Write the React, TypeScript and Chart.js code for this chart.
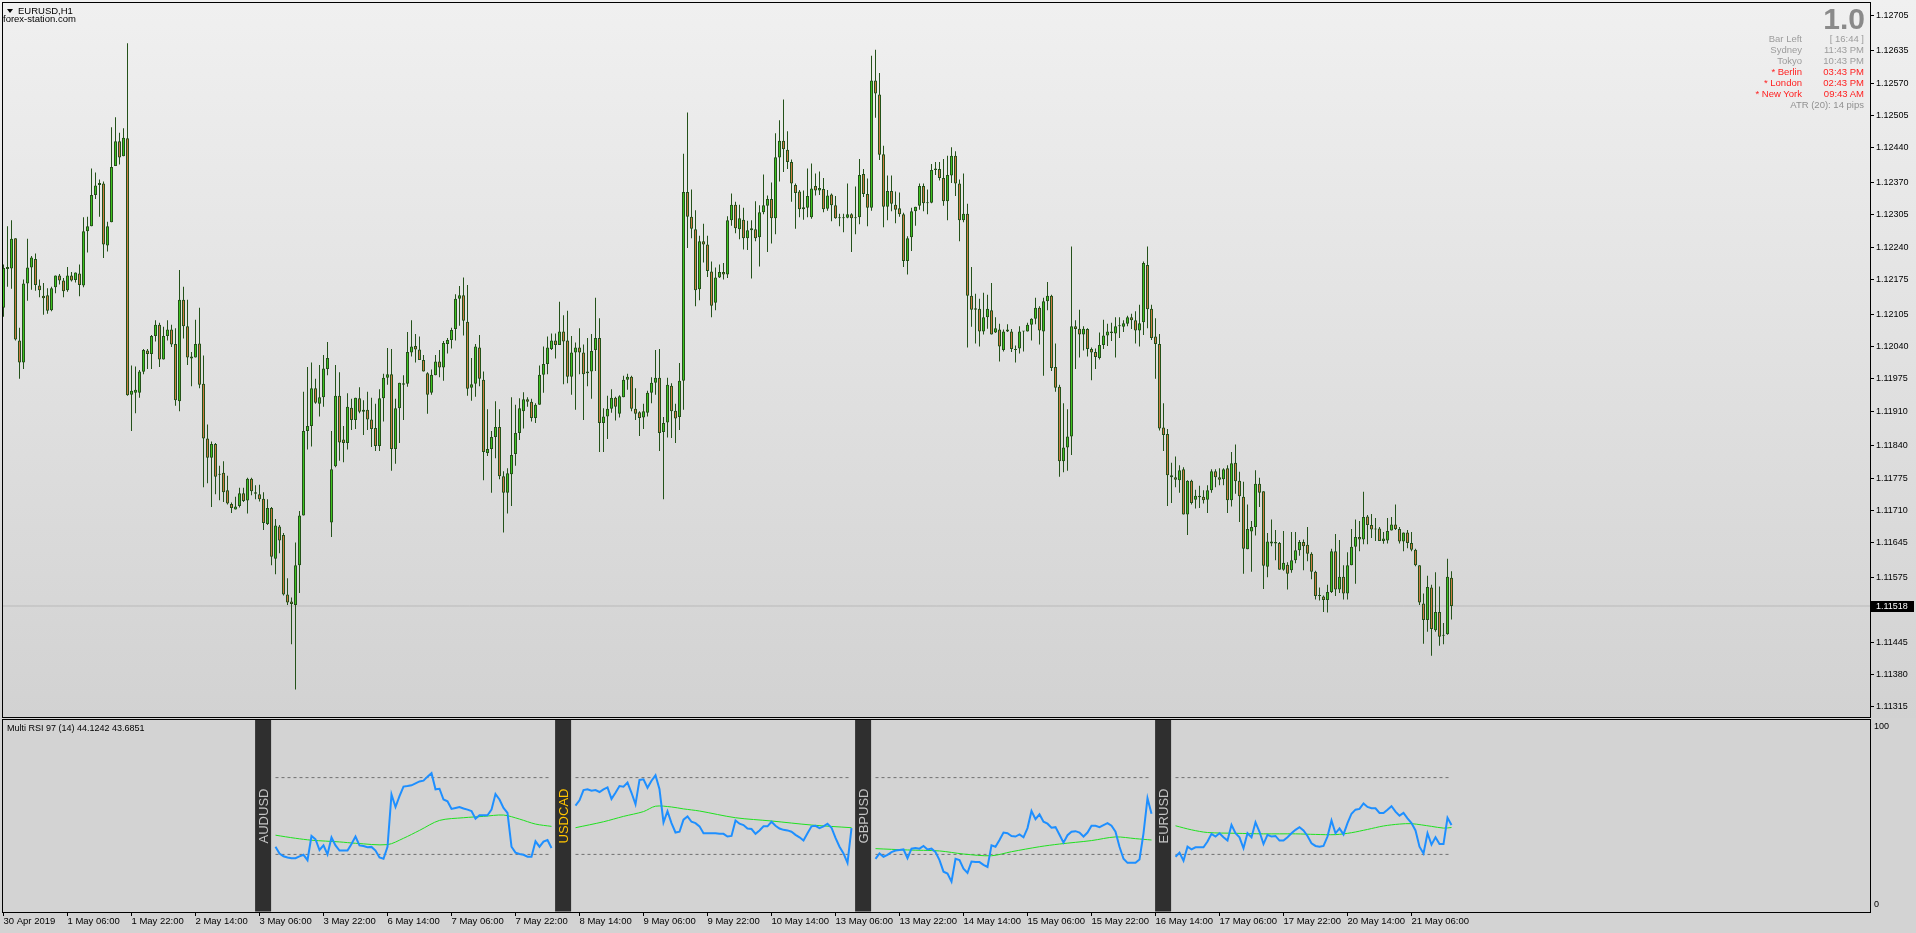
import React, { useEffect, useRef } from "react";
import { Chart, registerables } from "chart.js";
Chart.register(...registerables);

const FONT = "'Liberation Sans', Arial, sans-serif";

// ---------- EURUSD H1 candles (bar 0 = 30 Apr 2019 14:00) ----------
const opens = [
1.12118,1.12196,1.12197,1.12258,1.12052,1.12008,1.12167,1.12199,1.12216,1.12163,
1.12142,1.12143,1.12113,1.12159,1.12183,1.12173,1.12153,1.12183,1.12174,1.12187,
1.12163,1.12272,1.12282,1.12345,1.12365,1.12368,1.12243,1.12290,1.12403,1.12453,
1.12423,1.12459,1.11943,1.11947,1.11947,1.11989,1.12032,1.12025,1.12061,1.12084,
1.12014,1.12061,1.12074,1.12045,1.11930,1.12134,1.12081,1.12020,1.12018,1.12046,
1.11965,1.11855,1.11816,1.11844,1.11782,1.11786,1.11751,1.11723,1.11712,1.11719,
1.11745,1.11730,1.11774,1.11747,1.11743,1.11734,1.11683,1.11715,1.11613,1.11678,
1.11661,1.11541,1.11527,1.11520,1.11600,1.11700,1.11870,1.11880,1.11956,1.11925,
1.11938,1.11995,1.11686,1.11799,1.11941,1.11853,1.11846,1.11917,1.11892,1.11936,
1.11909,1.11913,1.11893,1.11876,1.11840,1.11936,1.11977,1.11984,1.11834,1.11916,
1.11966,1.11965,1.12028,1.12041,1.12034,1.12013,1.11986,1.11947,1.11982,1.12010,
1.11998,1.12045,1.12053,1.12075,1.12136,1.12143,1.12090,1.11957,1.11965,1.12038,
1.11973,1.11826,1.11834,1.11858,1.11878,1.11779,1.11746,1.11783,1.11824,1.11866,
1.11910,1.11934,1.11929,1.11896,1.11923,1.11983,1.12005,1.12035,1.12052,1.12043,
1.12070,1.12052,1.11979,1.12028,1.12038,1.12028,1.11986,1.11990,1.12033,1.12057,
1.11886,1.11899,1.11915,1.11937,1.11905,1.11938,1.11973,1.11979,1.11915,1.11908,
1.11897,1.11907,1.11947,1.11967,1.11977,1.11868,1.11887,1.11961,1.11911,1.11898,
1.11971,1.12351,1.12301,1.12276,1.12155,1.12252,1.12245,1.12191,1.12128,1.12179,
1.12190,1.12185,1.12294,1.12325,1.12276,1.12295,1.12258,1.12274,1.12276,1.12260,
1.12310,1.12323,1.12337,1.12298,1.12420,1.12454,1.12436,1.12411,1.12365,1.12352,
1.12316,1.12319,1.12300,1.12363,1.12354,1.12357,1.12317,1.12346,1.12324,1.12298,
1.12300,1.12299,1.12306,1.12298,1.12300,1.12387,1.12347,1.12319,1.12575,1.12547,
1.12427,1.12321,1.12353,1.12325,1.12318,1.12306,1.12212,1.12260,1.12312,1.12323,
1.12363,1.12328,1.12329,1.12395,1.12397,1.12379,1.12332,1.12384,1.12424,1.12368,
1.12294,1.12307,1.12142,1.12114,1.12116,1.12070,1.12099,1.12113,1.12068,1.12074,
1.12033,1.12070,1.12070,1.12035,1.12036,1.12070,1.12070,1.12084,1.12096,1.12118,
1.12070,1.12131,1.12142,1.11999,1.11959,1.11809,1.11837,1.11859,1.12081,1.12076,
1.12064,1.12075,1.12035,1.12029,1.12017,1.12043,1.12062,1.12070,1.12066,1.12081,
1.12080,1.12086,1.12099,1.12093,1.12072,1.12089,1.12204,1.12116,1.12060,1.12045,
1.11877,1.11864,1.11781,1.11777,1.11771,1.11793,1.11702,1.11770,1.11732,1.11740,
1.11738,1.11732,1.11751,1.11789,1.11777,1.11773,1.11795,1.11731,1.11806,1.11770,
1.11738,1.11632,1.11668,1.11677,1.11764,1.11749,1.11597,1.11648,1.11644,1.11645,
1.11591,1.11601,1.11590,1.11610,1.11630,1.11647,1.11641,1.11623,1.11587,1.11538,
1.11537,1.11530,1.11546,1.11628,1.11551,1.11577,1.11543,1.11600,1.11637,1.11657,
1.11652,1.11698,1.11681,1.11672,1.11674,1.11649,1.11650,1.11670,1.11682,1.11673,
1.11648,1.11666,1.11645,1.11631,1.11600,1.11523,1.11490,1.11555,1.11469,1.11506,
1.11458,1.11461,1.11575
];
const highs = [
1.12205,1.12282,1.12294,1.12258,1.12078,1.12175,1.12257,1.12222,1.12227,1.12175,
1.12168,1.12157,1.12160,1.12183,1.12186,1.12178,1.12200,1.12190,1.12189,1.12205,
1.12300,1.12301,1.12398,1.12390,1.12376,1.12372,1.12291,1.12481,1.12501,1.12470,
1.12479,1.12650,1.12002,1.12000,1.11993,1.12035,1.12035,1.12063,1.12093,1.12088,
1.12080,1.12093,1.12084,1.12077,1.12194,1.12160,1.12134,1.12029,1.12094,1.12118,
1.12022,1.11883,1.11849,1.11846,1.11800,1.11809,1.11780,1.11726,1.11738,1.11756,
1.11756,1.11776,1.11776,1.11761,1.11762,1.11747,1.11733,1.11717,1.11693,1.11681,
1.11665,1.11574,1.11535,1.11646,1.11709,1.11949,1.11999,1.12008,1.11975,1.12003,
1.12023,1.12049,1.11870,1.12003,1.11988,1.11880,1.11946,1.11935,1.11937,1.11958,
1.11932,1.11949,1.11937,1.11925,1.11954,1.11985,1.12037,1.12035,1.11935,1.11967,
1.11982,1.12069,1.12093,1.12065,1.12060,1.12023,1.11988,1.11994,1.12023,1.12033,
1.12051,1.12057,1.12078,1.12145,1.12162,1.12179,1.12164,1.12017,1.12045,1.12063,
1.11990,1.11914,1.11870,1.11930,1.11914,1.11789,1.11795,1.11938,1.11923,1.11936,
1.11948,1.11938,1.11935,1.11926,1.12002,1.12040,1.12060,1.12066,1.12066,1.12130,
1.12103,1.12112,1.12061,1.12048,1.12077,1.12044,1.12057,1.12065,1.12138,1.12097,
1.11916,1.11941,1.11954,1.11939,1.11942,1.11981,1.11985,1.11981,1.11956,1.11910,
1.11925,1.11951,1.11978,1.12033,1.12035,1.11898,1.11977,1.11966,1.11925,1.12007,
1.12428,1.12511,1.12356,1.12314,1.12263,1.12287,1.12263,1.12211,1.12199,1.12205,
1.12208,1.12302,1.12348,1.12331,1.12325,1.12319,1.12293,1.12294,1.12332,1.12324,
1.12386,1.12344,1.12370,1.12469,1.12495,1.12537,1.12473,1.12416,1.12368,1.12355,
1.12354,1.12398,1.12408,1.12388,1.12392,1.12379,1.12355,1.12348,1.12343,1.12307,
1.12307,1.12368,1.12308,1.12362,1.12417,1.12397,1.12378,1.12625,1.12637,1.12590,
1.12444,1.12384,1.12384,1.12352,1.12350,1.12309,1.12262,1.12319,1.12321,1.12368,
1.12368,1.12356,1.12407,1.12411,1.12411,1.12417,1.12424,1.12441,1.12433,1.12376,
1.12388,1.12327,1.12200,1.12146,1.12136,1.12148,1.12144,1.12168,1.12099,1.12086,
1.12074,1.12085,1.12075,1.12042,1.12081,1.12071,1.12088,1.12097,1.12138,1.12121,
1.12138,1.12170,1.12144,1.12046,1.11963,1.11926,1.11914,1.12241,1.12093,1.12114,
1.12081,1.12077,1.12038,1.12036,1.12068,1.12094,1.12086,1.12088,1.12099,1.12099,
1.12093,1.12102,1.12106,1.12111,1.12124,1.12211,1.12241,1.12124,1.12097,1.12065,
1.11926,1.11874,1.11806,1.11819,1.11801,1.11797,1.11771,1.11772,1.11752,1.11760,
1.11751,1.11761,1.11793,1.11793,1.11795,1.11795,1.11801,1.11828,1.11843,1.11788,
1.11768,1.11722,1.11689,1.11791,1.11776,1.11749,1.11665,1.11692,1.11671,1.11647,
1.11669,1.11606,1.11667,1.11667,1.11651,1.11652,1.11677,1.11626,1.11589,1.11555,
1.11539,1.11561,1.11633,1.11663,1.11651,1.11600,1.11626,1.11673,1.11692,1.11689,
1.11748,1.11701,1.11703,1.11695,1.11677,1.11667,1.11695,1.11697,1.11722,1.11677,
1.11666,1.11671,1.11667,1.11633,1.11600,1.11543,1.11579,1.11561,1.11586,1.11557,
1.11484,1.11613,1.11588
];
const lows = [
1.12100,1.12160,1.12156,1.12052,1.11975,1.11995,1.12132,1.12154,1.12152,1.12139,
1.12104,1.12106,1.12111,1.12147,1.12165,1.12139,1.12150,1.12171,1.12169,1.12141,
1.12159,1.12229,1.12282,1.12337,1.12301,1.12218,1.12231,1.12290,1.12403,1.12406,
1.12423,1.11941,1.11870,1.11906,1.11937,1.11984,1.11995,1.11995,1.12050,1.11999,
1.12014,1.12052,1.12039,1.11921,1.11910,1.12056,1.12003,1.11960,1.12018,1.11956,
1.11757,1.11765,1.11717,1.11743,1.11731,1.11727,1.11722,1.11705,1.11712,1.11716,
1.11727,1.11704,1.11741,1.11733,1.11728,1.11671,1.11681,1.11600,1.11582,1.11624,
1.11539,1.11520,1.11441,1.11350,1.11544,1.11700,1.11833,1.11839,1.11925,1.11899,
1.11919,1.11982,1.11657,1.11797,1.11810,1.11807,1.11833,1.11872,1.11874,1.11906,
1.11862,1.11872,1.11838,1.11830,1.11830,1.11889,1.11963,1.11790,1.11804,1.11846,
1.11892,1.11959,1.12020,1.12008,1.12013,1.11990,1.11905,1.11943,1.11982,1.11978,
1.11971,1.12026,1.12036,1.12052,1.12082,1.12062,1.11941,1.11931,1.11939,1.11960,
1.11771,1.11820,1.11746,1.11815,1.11773,1.11666,1.11704,1.11719,1.11800,1.11852,
1.11875,1.11919,1.11889,1.11886,1.11923,1.11947,1.11984,1.12033,1.12016,1.12043,
1.11964,1.11966,1.11943,1.11913,1.11984,1.11892,1.11960,1.11935,1.11991,1.11828,
1.11828,1.11854,1.11907,1.11891,1.11897,1.11938,1.11953,1.11910,1.11892,1.11860,
1.11874,1.11899,1.11926,1.11943,1.11830,1.11733,1.11857,1.11856,1.11846,1.11872,
1.11913,1.12238,1.12258,1.12121,1.12133,1.12209,1.12180,1.12099,1.12113,1.12178,
1.12175,1.12178,1.12283,1.12268,1.12256,1.12235,1.12234,1.12177,1.12252,1.12201,
1.12306,1.12230,1.12247,1.12266,1.12372,1.12391,1.12397,1.12331,1.12277,1.12300,
1.12295,1.12300,1.12297,1.12344,1.12345,1.12310,1.12313,1.12292,1.12297,1.12282,
1.12270,1.12298,1.12230,1.12266,1.12286,1.12341,1.12282,1.12313,1.12500,1.12415,
1.12280,1.12294,1.12312,1.12288,1.12301,1.12200,1.12185,1.12232,1.12283,1.12315,
1.12312,1.12306,1.12328,1.12385,1.12374,1.12323,1.12294,1.12369,1.12343,1.12252,
1.12290,1.12038,1.12080,1.12046,1.12040,1.12064,1.12076,1.12064,1.12067,1.12010,
1.12030,1.12069,1.12029,1.12008,1.12026,1.12030,1.12070,1.12052,1.12085,1.12044,
1.11981,1.12113,1.11991,1.11949,1.11778,1.11787,1.11790,1.11822,1.11995,1.12018,
1.12032,1.12020,1.11972,1.11995,1.12014,1.12035,1.12041,1.12051,1.12018,1.12057,
1.12069,1.12081,1.12075,1.12046,1.12040,1.12063,1.12077,1.12053,1.11975,1.11871,
1.11830,1.11719,1.11725,1.11757,1.11746,1.11702,1.11661,1.11722,1.11714,1.11715,
1.11724,1.11705,1.11746,1.11757,1.11761,1.11761,1.11705,1.11718,1.11744,1.11687,
1.11583,1.11632,1.11587,1.11660,1.11717,1.11552,1.11576,1.11638,1.11610,1.11591,
1.11589,1.11551,1.11585,1.11604,1.11619,1.11590,1.11608,1.11572,1.11531,1.11529,
1.11506,1.11505,1.11544,1.11538,1.11544,1.11531,1.11531,1.11600,1.11563,1.11628,
1.11642,1.11642,1.11655,1.11649,1.11649,1.11643,1.11644,1.11670,1.11671,1.11644,
1.11628,1.11634,1.11628,1.11598,1.11520,1.11442,1.11466,1.11418,1.11466,1.11438,
1.11441,1.11460,1.11491
];
const closes = [
1.12198,1.12200,1.12257,1.12054,1.12008,1.12167,1.12199,1.12219,1.12164,1.12153,
1.12137,1.12112,1.12157,1.12183,1.12173,1.12151,1.12183,1.12173,1.12189,1.12164,
1.12272,1.12282,1.12345,1.12364,1.12369,1.12245,1.12282,1.12401,1.12453,1.12420,
1.12460,1.11942,1.11951,1.11953,1.11990,1.12033,1.12025,1.12061,1.12084,1.12014,
1.12061,1.12074,1.12044,1.11932,1.12134,1.12081,1.12018,1.12016,1.12045,1.11963,
1.11855,1.11816,1.11844,1.11778,1.11784,1.11747,1.11724,1.11715,1.11718,1.11745,
1.11729,1.11774,1.11749,1.11744,1.11733,1.11685,1.11715,1.11617,1.11680,1.11650,
1.11541,1.11525,1.11522,1.11600,1.11700,1.11870,1.11880,1.11956,1.11927,1.11938,
1.11996,1.12017,1.11793,1.11941,1.11847,1.11846,1.11919,1.11892,1.11937,1.11909,
1.11913,1.11893,1.11874,1.11840,1.11936,1.11977,1.11984,1.11834,1.11916,1.11967,
1.11963,1.12029,1.12040,1.12034,1.12013,1.11990,1.11943,1.11983,1.12010,1.11998,
1.12047,1.12053,1.12073,1.12136,1.12143,1.12092,1.11955,1.11964,1.12040,1.11975,
1.11828,1.11834,1.11858,1.11878,1.11779,1.11746,1.11785,1.11822,1.11866,1.11916,
1.11934,1.11929,1.11896,1.11923,1.11983,1.12005,1.12038,1.12052,1.12043,1.12070,
1.12050,1.11979,1.12028,1.12038,1.12028,1.11984,1.11990,1.12031,1.12057,1.11886,
1.11899,1.11915,1.11937,1.11919,1.11940,1.11973,1.11979,1.11915,1.11905,1.11896,
1.11910,1.11947,1.11967,1.11977,1.11866,1.11886,1.11963,1.11910,1.11895,1.11971,
1.12351,1.12301,1.12277,1.12153,1.12252,1.12245,1.12192,1.12122,1.12179,1.12190,
1.12185,1.12294,1.12325,1.12278,1.12298,1.12258,1.12274,1.12278,1.12258,1.12310,
1.12324,1.12337,1.12298,1.12421,1.12454,1.12437,1.12411,1.12368,1.12349,1.12316,
1.12320,1.12343,1.12358,1.12354,1.12359,1.12316,1.12344,1.12324,1.12298,1.12300,
1.12298,1.12306,1.12298,1.12299,1.12385,1.12347,1.12319,1.12575,1.12549,1.12426,
1.12321,1.12353,1.12327,1.12315,1.12306,1.12212,1.12258,1.12312,1.12321,1.12363,
1.12328,1.12329,1.12395,1.12398,1.12379,1.12332,1.12385,1.12424,1.12368,1.12294,
1.12307,1.12142,1.12114,1.12117,1.12070,1.12099,1.12116,1.12064,1.12077,1.12040,
1.12070,1.12074,1.12035,1.12033,1.12070,1.12071,1.12084,1.12096,1.12118,1.12072,
1.12131,1.12142,1.11997,1.11957,1.11809,1.11837,1.11859,1.12081,1.12075,1.12064,
1.12076,1.12035,1.12028,1.12019,1.12043,1.12062,1.12070,1.12067,1.12081,1.12082,
1.12087,1.12099,1.12093,1.12072,1.12087,1.12208,1.12115,1.12057,1.12045,1.11875,
1.11862,1.11781,1.11777,1.11772,1.11791,1.11702,1.11770,1.11725,1.11740,1.11737,
1.11731,1.11751,1.11789,1.11777,1.11772,1.11793,1.11731,1.11805,1.11769,1.11739,
1.11633,1.11673,1.11677,1.11764,1.11746,1.11599,1.11648,1.11644,1.11647,1.11591,
1.11605,1.11583,1.11610,1.11630,1.11647,1.11638,1.11623,1.11587,1.11538,1.11540,
1.11530,1.11546,1.11628,1.11551,1.11577,1.11543,1.11600,1.11637,1.11657,1.11652,
1.11697,1.11681,1.11672,1.11674,1.11649,1.11654,1.11669,1.11682,1.11673,1.11648,
1.11666,1.11645,1.11631,1.11600,1.11525,1.11490,1.11556,1.11472,1.11506,1.11456,
1.11460,1.11577,1.11518
];

// price axis
const priceTicks = [1.12705,1.12635,1.12570,1.12505,1.12440,1.12370,1.12305,1.12240,1.12175,1.12105,1.12040,1.11975,1.11910,1.11840,1.11775,1.11710,1.11645,1.11575,1.11510,1.11445,1.11380,1.11315];
const priceMin = 1.113076;
const priceMax = 1.127222;

// time axis (one label every 16 bars)
const timeTickLabels = ["30 Apr 2019","1 May 06:00","1 May 22:00","2 May 14:00","3 May 06:00","3 May 22:00","6 May 14:00","7 May 06:00","7 May 22:00","8 May 14:00","9 May 06:00","9 May 22:00","10 May 14:00","13 May 06:00","13 May 22:00","14 May 14:00","15 May 06:00","15 May 22:00","16 May 14:00","17 May 06:00","17 May 22:00","20 May 14:00","21 May 06:00"];
const timeTickStep = 16;
const barMin = -0.125;
const barMax = 466.625;

// ---------- Multi RSI sub window ----------
const pairs = ["AUDUSD", "USDCAD", "GBPUSD", "EURUSD"];
const pairLabelColors = ["#c4c4c4", "#ffc400", "#c4c4c4", "#c4c4c4"];
const pairLabelBar = [64.9, 139.9, 214.9, 289.9];
const rsiStart = [68, 143, 218, 293];
const rsiLevels = [70, 30];

const audRsi = [34,30.5,29,28.4,28,28,29,29.8,27,39.6,37.9,32.3,34.7,30,38.8,34.7,32,32,32,35.4,39.3,34.7,34.4,33.7,33.9,32,28.4,27.7,34,61.2,54.7,60.4,65.3,65.6,66,67,68,68.4,70.5,72.3,63.9,64.2,58.6,57.7,53.7,54.2,54.7,53.9,53.3,52.6,48.6,50.4,50.4,50.4,53.3,61.4,58.6,54.2,51.6,34,30.9,30.2,29.8,28.8,28.8,36.8,34,36.7,37.5,33.3];
const cadRsi = [55.4,58.2,63.5,63.9,63.2,63.5,62.5,63.9,64.9,58.9,62.1,65.6,65.3,67.4,62.1,56.1,68.8,69.1,64.7,68.4,71.2,63.9,46.7,52.5,46.3,41.4,41.8,48.1,49.8,47,46.3,44.6,41,41,41,41,40.7,40.7,39.3,39.6,47.7,46,45.3,43.5,43.2,40.7,42.5,44.6,44.6,47,44.9,43.5,42.8,42.5,41.8,40.2,38.9,37.2,41,44.6,44.9,43.7,44.6,46,43.9,38.6,34,30.5,25.6,43.7];
const gbpRsi = [27.7,30.5,28.8,29.8,31.2,32,32.3,32.6,28,33,33.3,33,34.4,32.6,33,31.2,27,21,20,15.8,27.7,27,22.6,20.4,26.3,26,26,24.6,23.5,34.7,34,37.5,41.4,41,39.6,39.3,40.4,38.9,43.7,52.6,48.4,50.9,47,46,43.9,44.2,40.2,36.1,40,41.8,42.1,41.4,39.3,41.4,44.9,44.9,44.2,45.3,46.3,44.9,41.8,34,27.7,25.6,25.6,25.6,27.4,41,59.3,51.2];
const eurRsi = [28.8,30.9,26.7,34,32.6,33.7,33.7,33.7,36.7,40.7,39.3,41,38.9,37.2,45.4,41,38.9,33.2,41,38.9,46.7,41.8,35.4,40.2,39.3,39.6,37.2,37.2,38.9,41,42.8,44.2,42.5,39.6,35.8,34.4,34,34.4,39.3,47.7,41,43.5,40.4,46.3,51.2,53.3,53.7,56.5,54.7,54,54,51.6,51.6,53.3,55.1,52.3,50.2,51.6,48.8,46.3,42.5,34,30.5,41,35.1,38.9,35.4,35.4,49.1,45.3];

// signal (moving average) lines: [bar, value]
const audMa = [[68,40],[73,38.4],[77,37.4],[84,36.5],[88,35.8],[96,35.1],[100,38.4],[104,42.5],[109,47.7],[115,49.1],[120,49.8],[125,50.5],[129,48.4],[133,45.8],[137,44.6]];
const cadMa = [[143,43.9],[150,47],[155,49.8],[160,52.3],[163,55.1],[167,54.7],[170,53.7],[174,52.6],[183,49.1],[192,47.4],[202,45.3],[212,43.9]];
const gbpMa = [[218,33],[226,32.3],[234,31.8],[240,30.2],[247,29.3],[252,31.4],[259,34],[264,35.4],[272,37.2],[278,39.1],[283,38.2],[287,37.5]];
const eurMa = [[293,44.9],[297,42.8],[301,41.4],[308,41],[315,40.7],[323,40.7],[328,40.4],[333,40.3],[337,41.3],[341,43],[345,44.8],[349,45.8],[352,46],[357,44.6],[360,43.7],[362,44]];

const rsiSeries = [audRsi, cadRsi, gbpRsi, eurRsi];
const maSeries = [audMa, cadMa, gbpMa, eurMa];

// info panel
const infoLabels = ["Bar Left", "Sydney", "Tokyo", "* Berlin", "* London", "* New York"];
const infoValues = ["[ 16:44 ]", "11:43 PM", "10:43 PM", "03:43 PM", "02:43 PM", "09:43 AM"];
const infoColors = ["#9c9c9c", "#9c9c9c", "#9c9c9c", "#ff2020", "#ff2020", "#ff2020"];

const OUTLINE = "#24521a";
const BULL = "#3ec21f";
const BEAR = "#cd7a3f";

const lastPrice = closes[closes.length - 1];

function mainConfig(): any {
  const bodies = opens.map((o, i) => ({ x: i, y: [o, closes[i]] }));
  const wicks = highs.map((h, i) => ({ x: i, y: [lows[i], h] }));
  const overlay = {
    id: "mainOverlay",
    afterDraw(chart: any) {
      const { ctx, chartArea, scales } = chart;
      const y = Math.round(scales.y.getPixelForValue(lastPrice));
      ctx.save();
      ctx.fillStyle = "#000";
      ctx.fillRect(chartArea.right + 1, y - 5, 43, 11);
      ctx.fillStyle = "#fff";
      ctx.font = `9px ${FONT}`;
      ctx.textAlign = "left";
      ctx.textBaseline = "middle";
      ctx.fillText(lastPrice.toFixed(5), chartArea.right + 6, y + 1);
      ctx.restore();
    },
  };
  return {
    type: "bar",
    data: {
      datasets: [
        {
          type: "line",
          data: [{ x: barMin, y: lastPrice }, { x: barMax, y: lastPrice }],
          borderColor: "#b9b9b9",
          borderWidth: 1,
          pointRadius: 0,
          order: 3,
        },
        {
          data: wicks,
          backgroundColor: OUTLINE,
          borderWidth: 0,
          barThickness: 1,
          grouped: false,
          inflateAmount: 0,
          order: 2,
        },
        {
          data: bodies,
          backgroundColor: (c: any) => (closes[c.dataIndex] >= opens[c.dataIndex] ? BULL : BEAR),
          borderColor: OUTLINE,
          borderWidth: 1,
          borderSkipped: false,
          barThickness: 3,
          minBarLength: 1,
          grouped: false,
          inflateAmount: 0,
          order: 1,
        },
      ],
    },
    plugins: [overlay],
    options: {
      responsive: false,
      animation: false,
      devicePixelRatio: 1,
      events: [],
      layout: { padding: { left: 3, top: 3, right: 0, bottom: 1 } },
      plugins: { legend: { display: false }, tooltip: { enabled: false } },
      scales: {
        x: { type: "linear", display: false, min: barMin, max: barMax, offset: false, grid: { offset: false } },
        y: {
          type: "linear",
          position: "right",
          min: priceMin,
          max: priceMax,
          afterBuildTicks: (s: any) => { s.ticks = priceTicks.map((v) => ({ value: v })); },
          afterFit: (s: any) => { s.width = 46; },
          ticks: {
            callback: (v: any) => Number(v).toFixed(5),
            color: "#000",
            font: { family: FONT, size: 9 },
            padding: 2,
            autoSkip: false,
          },
          grid: { drawOnChartArea: false, drawTicks: true, tickLength: 4, tickColor: "#000", color: "#000" },
          border: { display: true, color: "#000", width: 1 },
        },
      },
    },
  };
}

function subConfig(): any {
  const datasets: any[] = [];
  datasets.push({
    data: pairLabelBar.map((x) => ({ x, y: [0, 100] })),
    backgroundColor: "#2f2f2f",
    borderWidth: 0,
    barThickness: 16,
    grouped: false,
    inflateAmount: 0,
    order: 6,
  });
  rsiSeries.forEach((arr, k) => {
    const s = rsiStart[k];
    const e = s + arr.length - 1;
    rsiLevels.forEach((lv) => {
      datasets.push({
        type: "line",
        data: [{ x: s, y: lv }, { x: e, y: lv }],
        borderColor: "#707070",
        borderWidth: 1,
        borderDash: [3, 3],
        pointRadius: 0,
        order: 5,
      });
    });
    datasets.push({
      type: "line",
      data: maSeries[k].map((p) => ({ x: p[0], y: p[1] })),
      borderColor: "#1fe01f",
      borderWidth: 1,
      pointRadius: 0,
      tension: 0.3,
      order: 4,
    });
    datasets.push({
      type: "line",
      data: arr.map((v, j) => ({ x: s + j, y: v })),
      borderColor: "#1e8fff",
      borderWidth: 2,
      pointRadius: 0,
      order: 2,
    });
  });
  const overlay = {
    id: "subOverlay",
    afterDatasetsDraw(chart: any) {
      const { ctx, chartArea, scales } = chart;
      const midY = (chartArea.top + chartArea.bottom) / 2;
      pairs.forEach((p, k) => {
        const px = scales.x.getPixelForValue(pairLabelBar[k]);
        ctx.save();
        ctx.translate(px + 1, midY);
        ctx.rotate(-Math.PI / 2);
        ctx.font = `13px ${FONT}`;
        ctx.fillStyle = pairLabelColors[k];
        ctx.textAlign = "center";
        ctx.textBaseline = "middle";
        ctx.fillText(p, 0, 0);
        ctx.restore();
      });
    },
    afterDraw(chart: any) {
      const { ctx, chartArea, scales } = chart;
      ctx.save();
      ctx.font = `9px ${FONT}`;
      ctx.fillStyle = "#000";
      ctx.textAlign = "left";
      ctx.textBaseline = "middle";
      ctx.fillText("100", chartArea.right + 4, scales.y.getPixelForValue(100) + 7);
      ctx.fillText("0", chartArea.right + 4, scales.y.getPixelForValue(0) - 7);
      ctx.restore();
    },
  };
  return {
    type: "bar",
    data: { datasets },
    plugins: [overlay],
    options: {
      responsive: false,
      animation: false,
      devicePixelRatio: 1,
      events: [],
      layout: { padding: { left: 3, top: 2, right: 0, bottom: 0 } },
      plugins: { legend: { display: false }, tooltip: { enabled: false } },
      scales: {
        x: {
          type: "linear",
          position: "bottom",
          min: barMin,
          max: barMax,
          offset: false,
          afterBuildTicks: (s: any) => { s.ticks = timeTickLabels.map((_, k) => ({ value: k * timeTickStep })); },
          afterFit: (s: any) => { s.height = 21; },
          ticks: {
            callback: (_v: any, idx: number) => timeTickLabels[idx],
            align: "start",
            maxRotation: 0,
            minRotation: 0,
            autoSkip: false,
            color: "#000",
            font: { family: FONT, size: 9.5 },
            padding: 0,
          },
          grid: { offset: false, drawOnChartArea: false, drawTicks: true, tickLength: 4, tickColor: "#000", color: "#000" },
          border: { display: true, color: "#000", width: 1 },
        },
        y: {
          type: "linear",
          position: "right",
          min: 0,
          max: 100,
          afterFit: (s: any) => { s.width = 46; },
          ticks: { display: false },
          grid: { drawOnChartArea: false, drawTicks: false },
          border: { display: true, color: "#000", width: 1 },
        },
      },
    },
  };
}

const txt = (extra: any): any => ({
  position: "absolute",
  fontFamily: FONT,
  fontSize: "9.5px",
  lineHeight: "11px",
  whiteSpace: "nowrap",
  ...extra,
});

export default function App() {
  const mainRef = useRef<HTMLCanvasElement>(null);
  const subRef = useRef<HTMLCanvasElement>(null);
  useEffect(() => {
    const m = new Chart(mainRef.current as HTMLCanvasElement, mainConfig());
    const s = new Chart(subRef.current as HTMLCanvasElement, subConfig());
    return () => {
      m.destroy();
      s.destroy();
    };
  }, []);
  const lenOk = opens.length === highs.length && highs.length === lows.length && lows.length === closes.length;
  return (
    <div style={{ position: "fixed", left: 0, top: 0, width: 1916, height: 933, overflow: "hidden", background: "#d3d3d3" }}>
      <div style={{ position: "absolute", left: 0, top: 0, width: 1916, height: 718, background: "linear-gradient(to bottom, #f0f0f0 0px, #d2d2d2 718px)" }} />
      <canvas ref={mainRef} width={1916} height={718} style={{ position: "absolute", left: 0, top: 0, width: 1916, height: 718, display: "block" }} />
      <canvas ref={subRef} width={1916} height={215} style={{ position: "absolute", left: 0, top: 718, width: 1916, height: 215, display: "block" }} />
      {/* panel frames */}
      <div style={{ position: "absolute", left: 2, top: 2, width: 1869, height: 716, boxSizing: "border-box", border: "1px solid #000", pointerEvents: "none" }} />
      <div style={{ position: "absolute", left: 2, top: 719, width: 1869, height: 194, boxSizing: "border-box", border: "1px solid #000", pointerEvents: "none" }} />
      {/* title */}
      <div style={{ position: "absolute", left: 7, top: 9, width: 0, height: 0, borderLeft: "3px solid transparent", borderRight: "3px solid transparent", borderTop: "4px solid #000" }} />
      <div style={txt({ left: 18, top: 5, color: "#000" })}>EURUSD,H1</div>
      <div style={txt({ left: 3, top: 13, color: "#000" })}>forex-station.com</div>
      {/* info panel */}
      <div style={{ position: "absolute", right: 51, top: 4, fontFamily: FONT, fontWeight: "bold", fontSize: "30px", lineHeight: "30px", color: "#8a8a8a" }}>1.0</div>
      {infoLabels.map((l, k) => (
        <div key={"l" + k} style={txt({ right: 114, top: 33 + 11 * k, color: infoColors[k], textAlign: "right" })}>{l}</div>
      ))}
      {infoValues.map((v, k) => (
        <div key={"v" + k} style={txt({ right: 52, top: 33 + 11 * k, color: infoColors[k], textAlign: "right" })}>{v}</div>
      ))}
      <div style={txt({ right: 52, top: 99, color: "#909090", textAlign: "right" })}>ATR (20): 14 pips</div>
      {/* sub window title */}
      <div style={txt({ left: 7, top: 723, color: "#000", fontSize: "9px" })}>Multi RSI 97 (14) 44.1242 43.6851</div>
      {!lenOk && <div style={txt({ left: 600, top: 300, color: "red", fontSize: "30px" })}>LEN MISMATCH</div>}
    </div>
  );
}
